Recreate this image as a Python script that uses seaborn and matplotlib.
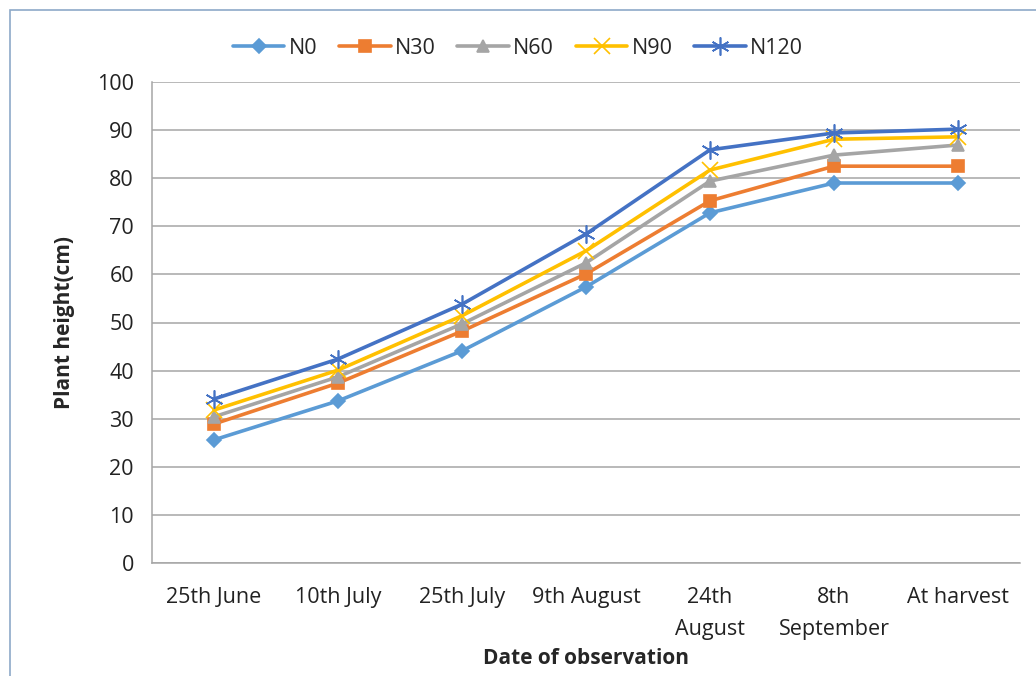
import matplotlib
matplotlib.use("Agg")
import matplotlib.pyplot as plt
from matplotlib.patches import Rectangle
import seaborn as sns
import numpy as np

dates = ["25th June", "10th July", "25th July", "9th August",
         "24th\nAugust", "8th\nSeptember", "At harvest"]
n0 = [25.6, 33.7, 44.1, 57.4, 72.8, 79.0, 79.0]
n30 = [28.9, 37.4, 48.2, 60.1, 75.3, 82.5, 82.5]
n60 = [30.4, 38.7, 49.7, 62.4, 79.4, 84.8, 86.9]
n90 = [31.8, 40.1, 51.4, 64.9, 81.7, 88.1, 88.6]
n120 = [34.1, 42.4, 53.8, 68.4, 85.9, 89.4, 90.2]
series = {"N0": n0, "N30": n30, "N60": n60, "N90": n90, "N120": n120}

sns.set_theme(style="white")
plt.rcParams["font.family"] = ["Open Sans", "DejaVu Sans"]

palette = {"N0": "#5B9BD5", "N30": "#ED7D31", "N60": "#A5A5A5",
           "N90": "#FFC000", "N120": "#4472C4"}
markers = {"N0": "D", "N30": "s", "N60": "^", "N90": "x", "N120": (6, 2, 0)}
sizes = {"N0": 7, "N30": 9, "N60": 9, "N90": 11, "N120": 13}

fig = plt.figure(figsize=(10.36, 6.76), dpi=100)
ax = fig.add_axes([152 / 1036, 1 - 563 / 676, (1020 - 152) / 1036, (563 - 82) / 676])

x = np.arange(len(dates))
for name, vals in series.items():
    sns.lineplot(x=x, y=vals, color=palette[name], marker=markers[name],
                 markersize=sizes[name], markeredgecolor=palette[name],
                 markeredgewidth=1.2, linewidth=2.6, ax=ax, label=name, legend=False)

ax.set_xlim(-0.5, len(dates) - 0.5)
ax.set_ylim(0, 100)
ax.set_yticks(np.arange(0, 101, 10))
ax.set_xticks(x)
ax.set_xticklabels(dates, fontsize=15.5, color="#222222", linespacing=1.7)
ax.tick_params(axis="y", labelsize=15.5, labelcolor="#222222", length=0, pad=13)
ax.tick_params(axis="x", which="major", length=0, pad=17)
ax.set_xticks(np.arange(-0.5, len(dates), 1.0), minor=True)
ax.tick_params(axis="x", which="minor", length=6, color="#A0A0A0", width=1, direction="out")
ax.grid(axis="y", color="#A6A6A6", linewidth=1.1)
ax.set_axisbelow(True)
for side in ["top", "right"]:
    ax.spines[side].set_visible(False)
for side in ["left", "bottom"]:
    ax.spines[side].set_color("#A6A6A6")
    ax.spines[side].set_linewidth(1.1)

ax.set_xlabel("Date of observation", fontsize=15, fontweight="bold", labelpad=6)
ax.set_ylabel("Plant height(cm)", fontsize=15, fontweight="bold", labelpad=16)

handles, labels = ax.get_legend_handles_labels()
fig.legend(handles, labels, loc="center", bbox_to_anchor=(0.5, 1 - 48 / 676),
           ncol=5, frameon=False, fontsize=15.5, handlelength=2.4, columnspacing=1.0,
           handletextpad=0.2)

fig.patches.append(Rectangle((10 / 1036, -0.01), 1.0, 1 - 10 / 676 + 0.01,
                             transform=fig.transFigure, fill=False,
                             edgecolor="#8EA9C8", linewidth=1.2))

fig.savefig("out.png", dpi=100)
